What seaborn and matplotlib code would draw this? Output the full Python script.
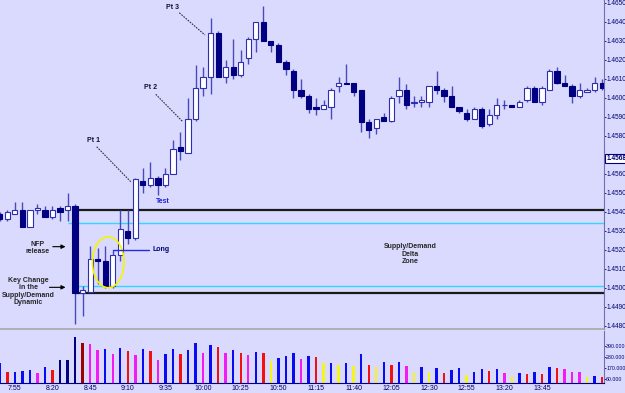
import numpy as np
import pandas as pd
import matplotlib.pyplot as plt
import matplotlib.transforms as mtransforms
from matplotlib.patches import Ellipse
import seaborn as sns

# 5 minute bars, bar 0 = 7:45
bar_idx = np.arange(81)

opens = [1.4539, 1.4536, 1.4539, 1.4541, 1.4532, 1.4541, 1.4541, 1.4537, 1.4542, 1.4541,
         1.4543, 1.4497, 1.4498, 1.4515, 1.4514, 1.4501, 1.4517, 1.4530, 1.4526, 1.4556,
         1.4554, 1.4558, 1.4554, 1.4560, 1.4574, 1.4571, 1.4589, 1.4605, 1.4611, 1.4634,
         1.4611, 1.4616, 1.4612, 1.4621, 1.4631, 1.4640, 1.4630, 1.4628, 1.4619, 1.4614,
         1.4604, 1.4601, 1.4595, 1.4594, 1.4595, 1.4606, 1.4608, 1.4608, 1.4604, 1.4587,
         1.4584, 1.4590, 1.4588, 1.4601, 1.4604, 1.4597, 1.4598, 1.4598, 1.4606, 1.4604,
         1.4601, 1.4595, 1.4592, 1.4589, 1.4594, 1.4586, 1.4591, 1.4596, 1.4596, 1.4595,
         1.4599, 1.4605, 1.4598, 1.4604, 1.4614, 1.4608, 1.4606, 1.4601, 1.4603, 1.4604,
         1.4608]
closes = [1.4536, 1.4540, 1.4541, 1.4532, 1.4541, 1.4542, 1.4537, 1.4541, 1.4540, 1.4543,
          1.4497, 1.4499, 1.4515, 1.4514, 1.4501, 1.4517, 1.4531, 1.4526, 1.4557, 1.4554,
          1.4558, 1.4554, 1.4560, 1.4573, 1.4572, 1.4589, 1.4605, 1.4611, 1.4634, 1.4611,
          1.4616, 1.4612, 1.4619, 1.4631, 1.4640, 1.4630, 1.4628, 1.4619, 1.4615, 1.4604,
          1.4601, 1.4594, 1.4594, 1.4596, 1.4604, 1.4608, 1.4607, 1.4603, 1.4587, 1.4583,
          1.4589, 1.4588, 1.4600, 1.4604, 1.4596, 1.4598, 1.4599, 1.4606, 1.4604, 1.4601,
          1.4595, 1.4593, 1.4589, 1.4594, 1.4585, 1.4591, 1.4596, 1.4596, 1.4595, 1.4598,
          1.4605, 1.4598, 1.4605, 1.4614, 1.4608, 1.4606, 1.4601, 1.4604, 1.4604, 1.4608,
          1.4605]
highs = [1.4540, 1.4541, 1.4545, 1.4545, 1.4541, 1.4544, 1.4543, 1.4543, 1.4543, 1.4550,
         1.4544, 1.4501, 1.4522, 1.4521, 1.4522, 1.4520, 1.4541, 1.4541, 1.4558, 1.4563,
         1.4566, 1.4559, 1.4563, 1.4578, 1.4582, 1.4600, 1.4617, 1.4616, 1.4642, 1.4635,
         1.4620, 1.4631, 1.4625, 1.4632, 1.4640, 1.4648, 1.4630, 1.4629, 1.4620, 1.4615,
         1.4610, 1.4602, 1.4600, 1.4599, 1.4605, 1.4611, 1.4618, 1.4608, 1.4604, 1.4589,
         1.4589, 1.4592, 1.4601, 1.4611, 1.4607, 1.4601, 1.4601, 1.4606, 1.4614, 1.4605,
         1.4606, 1.4595, 1.4594, 1.4595, 1.4595, 1.4594, 1.4600, 1.4599, 1.4596, 1.4599,
         1.4606, 1.4606, 1.4606, 1.4615, 1.4616, 1.4612, 1.4607, 1.4608, 1.4605, 1.4611,
         1.4610]
lows = [1.4535, 1.4535, 1.4539, 1.4532, 1.4532, 1.4539, 1.4537, 1.4536, 1.4535, 1.4535,
        1.4481, 1.4485, 1.4498, 1.4502, 1.4500, 1.4500, 1.4514, 1.4523, 1.4525, 1.4550,
        1.4553, 1.4549, 1.4553, 1.4560, 1.4567, 1.4571, 1.4588, 1.4601, 1.4602, 1.4611,
        1.4608, 1.4610, 1.4611, 1.4618, 1.4624, 1.4630, 1.4624, 1.4619, 1.4612, 1.4600,
        1.4600, 1.4592, 1.4591, 1.4594, 1.4589, 1.4603, 1.4607, 1.4601, 1.4582, 1.4579,
        1.4581, 1.4588, 1.4587, 1.4597, 1.4594, 1.4595, 1.4595, 1.4595, 1.4602, 1.4598,
        1.4595, 1.4592, 1.4588, 1.4589, 1.4584, 1.4585, 1.4589, 1.4594, 1.4595, 1.4595,
        1.4598, 1.4598, 1.4596, 1.4604, 1.4607, 1.4606, 1.4597, 1.4600, 1.4603, 1.4603,
        1.4604]

volume = [220, 124, 124, 137, 150, 121, 174, 150, 247, 250,
          474, 420, 407, 344, 357, 307, 367, 334, 297, 357,
          337, 247, 311, 357, 311, 347, 414, 317, 400, 380,
          317, 350, 320, 297, 330, 314, 234, 267, 287, 314,
          257, 290, 274, 217, 220, 194, 220, 190, 307, 200,
          174, 230, 197, 227, 190, 124, 177, 124, 164, 120,
          150, 164, 97, 124, 160, 137, 154, 120, 90, 117,
          111, 131, 111, 174, 164, 154, 131, 131, 74, 90,
          74]
vol_kind = ['blue', 'red', 'blue', 'blue', 'blue', 'magenta', 'blue', 'red', 'navy', 'navy',
            'navy', 'darkred', 'magenta', 'magenta', 'blue', 'magenta', 'blue', 'red', 'magenta', 'blue',
            'red', 'magenta', 'blue', 'blue', 'red', 'blue', 'blue', 'magenta', 'blue', 'red',
            'magenta', 'blue', 'red', 'magenta', 'blue', 'red', 'yellow', 'blue', 'blue', 'blue',
            'magenta', 'blue', 'red', 'yellow', 'blue', 'yellow', 'blue', 'yellow', 'blue', 'red',
            'yellow', 'blue', 'red', 'blue', 'magenta', 'yellow', 'blue', 'yellow', 'blue', 'red',
            'blue', 'blue', 'yellow', 'blue', 'blue', 'red', 'blue', 'magenta', 'yellow', 'blue',
            'red', 'blue', 'red', 'blue', 'red', 'magenta', 'magenta', 'magenta', 'yellow', 'blue',
            'red']
vol_palette = {'blue': '#0A0AF5', 'red': '#F51010', 'magenta': '#F51AF5', 'yellow': '#F5F51A',
               'navy': '#000080', 'darkred': '#A00000'}

time_ticks = [2, 7, 12, 17, 22, 27, 32, 37, 42, 47, 52, 57, 62, 67, 72]
time_labels = ['7:55', '8:20', '8:45', '9:10', '9:35', '10:00', '10:25', '10:50',
               '11:15', '11:40', '12:05', '12:30', '12:55', '13:20', '13:45']
price_ticks = [1.4480, 1.4490, 1.4500, 1.4510, 1.4520, 1.4530, 1.4540, 1.4550, 1.4560,
               1.4580, 1.4590, 1.4600, 1.4610, 1.4620, 1.4630, 1.4640, 1.4650]
price_labels = ['%.4f' % p for p in price_ticks]
last_price = 1.4568
vol_ticks = [60, 170, 280, 390]
vol_labels = ['60.000', '170.000', '280.000', '390.000']

zone_lines = [1.4541, 1.4497]
cyan_lines = [1.4534, 1.4501]

bg = '#DADAFF'
navy = '#000070'
sns.set_style('white', {'axes.facecolor': bg, 'figure.facecolor': bg})
plt.rcParams['font.family'] = ['Liberation Sans', 'DejaVu Sans']
narrow = ['Liberation Sans Narrow', 'Liberation Sans']

fig = plt.figure(figsize=(6.25, 3.93), dpi=100)
ax = fig.add_axes([0, 0.1628, 0.9664, 0.8372])
axv = fig.add_axes([0, 0.0267, 0.9664, 0.1311])

# candles
o = np.array(opens)
c = np.array(closes)
up = c >= o
body_lo = np.minimum(o, c)
body_h = np.maximum(np.abs(c - o), 0.00003)
ax.vlines(bar_idx, lows, highs, color='#4B4BB8', lw=1, zorder=2)
ax.bar(bar_idx[up], body_h[up], bottom=body_lo[up], width=0.7, color='white',
       edgecolor='#2E2EB0', lw=0.8, zorder=3)
ax.bar(bar_idx[~up], body_h[~up], bottom=body_lo[~up], width=0.7, color='#000080',
       edgecolor='#000080', lw=0.8, zorder=3)

# supply / demand zone
ax.hlines(zone_lines, 10, 81, color='#1A1A1A', lw=1.6, zorder=1)
ax.hlines(cyan_lines[0], 9, 81, color='#2ED8FF', lw=1, zorder=1)
ax.hlines(cyan_lines[1], 10.4, 81, color='#2ED8FF', lw=1, zorder=1)
ax.add_patch(Ellipse((14.4, 1.45134), 4.2, 0.00268, fill=False, ec='#F5F500', lw=1.2, zorder=4))

# annotations
fs = 5
ax.text(54.5, 1.45177, 'Supply/Demand\nDelta\nZone', fontsize=fs, weight='bold',
        ha='center', va='center', linespacing=1.1)
ax.text(5.0, 1.45209, 'NFP\nrelease', fontsize=fs, weight='bold', ha='center', va='center',
        linespacing=1.1)
ax.text(3.75, 1.44981, 'Key Change\nin the\nSupply/Demand\nDynamic', fontsize=fs, weight='bold',
        ha='center', va='center', linespacing=1.1)
arrow = dict(arrowstyle='-|>', color='black', lw=0.8, mutation_scale=6)
ax.annotate('', xy=(9.1, 1.45216), xytext=(6.67, 1.45216), arrowprops=arrow)
ax.annotate('', xy=(9.1, 1.45002), xytext=(6.23, 1.45002), arrowprops=arrow)

ax.plot([15, 19.85], [1.4520, 1.4520], color='#2A2AE0', lw=1, zorder=4)
ax.text(20.3, 1.4520, 'Long', fontsize=fs, weight='bold', color=navy, va='center', ha='left')
ax.text(21.7, 1.45453, 'Test', fontsize=fs, weight='bold', color='#1E1EDC', va='center', ha='center')

pts = [('Pt 1', 12.45, 1.45777, (12.87, 1.45742), (17.39, 1.45558)),
       ('Pt 2', 20.08, 1.46056, (20.71, 1.46018), (24.29, 1.45874)),
       ('Pt 3', 22.94, 1.46477, (23.84, 1.46447), (27.25, 1.46330))]
for label, tx, ty, p0, p1 in pts:
    ax.text(tx, ty, label, fontsize=fs, weight='bold', color='#101030', ha='center', va='center')
    ax.plot([p0[0], p1[0]], [p0[1], p1[1]], color='#303040', lw=0.8, ls=(0, (1.5, 1)))

ax.set_xlim(0.03, 80.24)
ax.set_ylim(1.447826, 1.465142)
ax.set_xticks([])
ax.yaxis.tick_right()
ax.set_yticks(price_ticks)
ax.set_yticklabels(price_labels, family=narrow)
ax.tick_params(axis='y', direction='out', length=1.5, width=0.6, color=navy,
               labelsize=4.7, labelcolor=navy, pad=0.4)
for s in ['left', 'top']:
    ax.spines[s].set_visible(False)
ax.spines['right'].set_color('#7070B0')
ax.spines['bottom'].set_color('#A8A8A8')
ax.spines['bottom'].set_linewidth(1.2)

trans = mtransforms.blended_transform_factory(ax.transAxes, ax.transData)
ax.text(1.0035, last_price, '%.4f' % last_price, transform=trans, fontsize=4.7, weight='bold',
        family=narrow, color=navy, va='center', ha='left',
        bbox=dict(boxstyle='square,pad=0.15', fc='white', ec='#000080', lw=0.8))

# volume
vol_df = pd.DataFrame({'bar': bar_idx, 'volume': volume, 'kind': vol_kind})
sns.barplot(data=vol_df, x='bar', y='volume', hue='kind', palette=vol_palette, dodge=False,
            native_scale=True, width=0.32, saturation=1, linewidth=0, legend=False, ax=axv)
axv.set_xlim(0.03, 80.24)
axv.set_ylim(22, 537)
axv.set_xlabel('')
axv.set_ylabel('')
axv.set_xticks(time_ticks)
axv.set_xticklabels(time_labels)
axv.yaxis.tick_right()
axv.set_yticks(vol_ticks)
axv.set_yticklabels(vol_labels, family=narrow)
axv.tick_params(axis='x', length=0, labelsize=5, labelcolor=navy, pad=1.5)
axv.tick_params(axis='y', direction='out', length=1.2, width=0.6, color=navy,
                labelsize=3.8, labelcolor=navy, pad=0.3)
for s in ['left', 'top']:
    axv.spines[s].set_visible(False)
axv.spines['right'].set_color('#7070B0')
axv.spines['bottom'].set_color('#000080')
axv.spines['bottom'].set_linewidth(0.8)

fig.savefig('out.png', dpi=100)
